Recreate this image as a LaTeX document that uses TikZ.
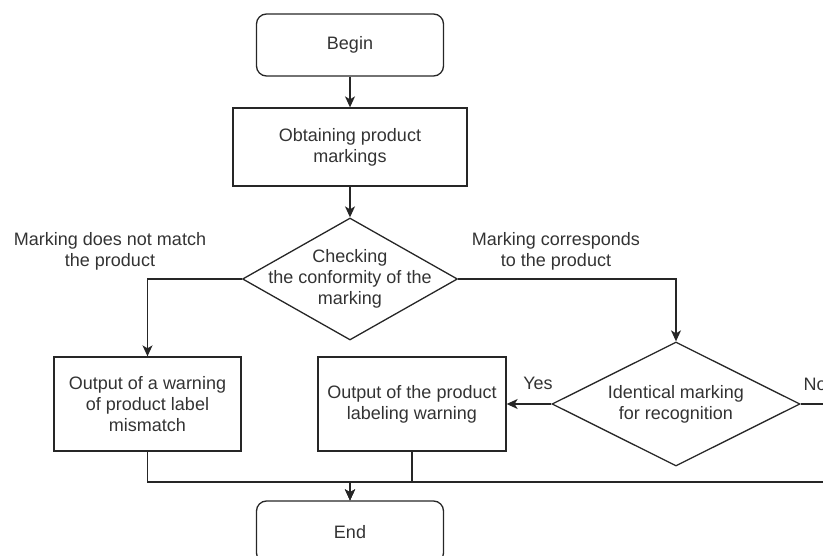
\documentclass[tikz,border=0pt]{standalone}
\usepackage{fontspec}
\setmainfont{Liberation Sans}
\usetikzlibrary{shapes.geometric,arrows.meta}

\begin{document}
\begin{tikzpicture}[x=1pt, y=-1pt, line width=1.3pt,
    every node/.style={font=\fontsize{18}{21}\selectfont, text=black!80, align=center, inner sep=0pt},
    terminal/.style={draw=black!85, rounded corners=10pt, minimum width=187pt, minimum height=62pt},
    process/.style={draw=black!85, minimum height=94pt},
    decision/.style={draw=black!85, diamond},
    line/.style={draw=black!85},
    arrow/.style={line, -{Stealth[length=11pt, width=10pt, inset=3pt]}}]
    \useasboundingbox (0, 0) rectangle (823, 556);
    \clip (0, 0) rectangle (823, 556);
    % start
    \node [terminal]                                (begin)  at (350, 45)  {Begin};
    \node [process, minimum width=234pt, minimum height=78pt] (obtain) at (350, 147) {Obtaining product\\markings};
    % first check
    \node [decision, minimum width=215pt, minimum height=122pt] (check) at (350, 279) {};
    \node                                           (checkText) at (check) {Checking\\the conformity of the\\marking};
    \node                                           (noMatch) at (110, 251) {Marking does not match\\the product};
    \node                                           (match)   at (556, 251) {Marking corresponds\\to the product};
    % outputs
    \node [process, minimum width=187pt]            (warnA)  at (147.5, 404) {Output of a warning\\of product label\\mismatch};
    \node [process, minimum width=188pt]            (warnB)  at (412, 404) {Output of the product\\labeling warning};
    % second check
    \node [decision, minimum width=248pt, minimum height=124pt] (ident) at (676, 404) {};
    \node                                           (identText) at (ident) {Identical marking\\for recognition};
    \node                                           (yes)    at (538, 383) {Yes};
    \node [anchor=west]                             (no)     at (803, 384) {No};
    % end
    \node [terminal]                                (end)    at (350, 532) {End};
    \coordinate (join)  at (350, 482);
    \coordinate (noOut) at (850, 404);
    % edges
    \draw [arrow]    (begin) -- (obtain);
    \draw [arrow]    (obtain) -- (check);
    \draw [arrow]    (check.west) -| (warnA.north);
    \draw [arrow]    (check.east) -| (ident.north);
    \draw [arrow]    (ident.west) -- (warnB.east);
    \draw [line]     (ident.east) -- (noOut);
    \draw [arrow]    (warnA.south) |- (join) -- (end.north);
    \draw [arrow]    (warnB.south) |- (join) -- (end.north);
    \draw [arrow]    (noOut) |- (join) -- (end.north);
\end{tikzpicture}
\end{document}
